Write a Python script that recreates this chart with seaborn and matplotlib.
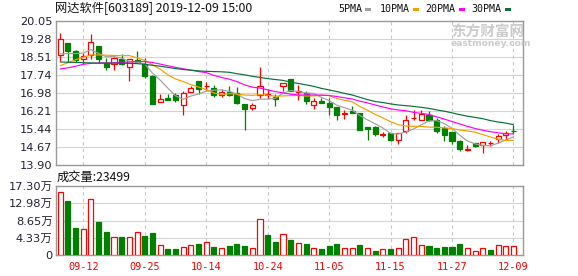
import numpy as np
import pandas as pd
import matplotlib
matplotlib.use("Agg")
import matplotlib.pyplot as plt
from matplotlib.patches import Rectangle
import seaborn as sns

# ---------------- data ----------------
tick_dates = ["09-12", "09-25", "10-14", "10-24", "11-05", "11-15", "11-27", "12-09"]
tick_index = [3, 11, 19, 27, 35, 43, 51, 59]

opens = [18.60, 19.11, 18.76, 18.43, 18.58, 18.97, 18.24, 18.21, 18.44, 18.07,
         18.38, 18.21, 17.71, 16.58, 16.76, 16.90, 16.48, 17.00, 17.47, 17.26,
         17.19, 16.89, 17.02, 16.97, 16.50, 16.33, 16.88, 16.90, 16.82, 17.29,
         17.57, 17.00, 16.96, 16.48, 16.63, 16.55, 16.39, 16.08, 16.19, 16.12,
         15.54, 15.52, 15.18, 15.25, 14.98, 15.34, 15.89, 15.81, 16.05, 15.81,
         15.48, 15.31, 14.91, 14.56, 14.82, 14.76, 14.82, 15.00, 15.16, 15.37]
closes = [19.27, 18.77, 18.40, 18.56, 19.14, 18.44, 18.07, 18.46, 18.21, 18.41,
          18.30, 17.71, 16.51, 16.72, 16.69, 16.66, 16.96, 17.19, 17.16, 17.28,
          16.90, 17.00, 16.90, 16.56, 16.31, 16.48, 17.29, 16.93, 16.73, 17.39,
          17.07, 17.04, 16.65, 16.62, 16.56, 16.39, 16.05, 16.11, 16.12, 15.41,
          15.44, 15.22, 15.21, 14.98, 15.27, 15.84, 15.91, 16.08, 15.81, 15.34,
          15.20, 14.91, 14.60, 14.58, 14.72, 14.87, 14.84, 15.15, 15.28, 15.35]
highs = [19.54, 19.11, 18.81, 18.67, 19.49, 18.97, 18.47, 18.50, 18.64, 18.41,
         18.77, 18.47, 17.76, 16.93, 16.93, 16.96, 17.05, 17.26, 17.47, 17.43,
         17.33, 17.14, 17.26, 17.22, 16.50, 16.55, 18.07, 17.16, 16.93, 17.39,
         17.57, 17.30, 17.05, 16.76, 16.76, 16.76, 16.39, 16.26, 16.40, 16.12,
         15.54, 15.55, 15.31, 15.25, 15.27, 16.05, 16.26, 16.24, 16.19, 15.91,
         15.55, 15.31, 14.98, 14.77, 14.84, 14.87, 14.92, 15.22, 15.34, 15.61]
lows = [18.33, 18.30, 18.31, 18.20, 18.44, 18.26, 17.97, 17.97, 18.18, 17.50,
        18.24, 17.62, 16.51, 16.58, 16.69, 16.59, 16.05, 17.00, 16.93, 17.12,
        16.80, 16.80, 16.83, 16.52, 15.41, 16.26, 16.76, 16.72, 16.41, 17.05,
        17.05, 16.69, 16.50, 16.31, 16.55, 16.05, 15.84, 15.88, 16.12, 15.41,
        14.98, 15.12, 15.08, 14.94, 14.81, 15.27, 15.81, 15.81, 15.76, 15.27,
        14.94, 14.81, 14.48, 14.51, 14.65, 14.43, 14.72, 14.86, 14.98, 15.22]

# volume in 万 (10k) and bar colour (R = up, G = down) as drawn
volumes = [15.87, 13.54, 6.77, 6.44, 13.96, 8.27, 5.77, 4.43, 4.51, 4.43,
           5.68, 4.76, 5.52, 2.42, 1.50, 1.50, 1.92, 2.42, 2.76, 3.26,
           2.01, 1.67, 2.26, 2.76, 2.26, 1.67, 8.94, 5.01, 3.34, 5.26,
           3.76, 3.01, 2.76, 1.76, 1.50, 2.26, 2.76, 1.67, 1.67, 2.51,
           1.67, 1.00, 1.42, 1.50, 1.67, 3.93, 4.43, 2.42, 2.26, 1.76,
           2.01, 2.01, 2.76, 1.67, 0.92, 1.67, 1.25, 2.42, 2.17, 2.35]
vol_dir = list("RGGRRGGRGRRGGRGGRRGRGRGGGRRGGRGRGRGGGRRGRGRGRRRRGGGGGRRRGRRR")

# moving-average values before enough history is visible
ma5_head = [18.64, 18.66, 18.66, 18.68]
ma10_head = [18.14, 18.27, 18.40, 18.50, 18.60, 18.60, 18.59, 18.58, 18.57]
ma20_head = [18.00, 18.05, 18.12, 18.20, 18.24, 18.26, 18.26, 18.27, 18.28, 18.30,
             18.32, 18.32, 18.28, 18.21, 18.14, 18.07, 18.01, 17.95, 17.89]
ma30_head = [18.30, 18.29, 18.28, 18.27, 18.26, 18.25, 18.25, 18.25, 18.25, 18.24,
             18.23, 18.20, 18.16, 18.12, 18.07, 18.02, 17.98, 17.95, 17.92, 17.90,
             17.89, 17.88, 17.86, 17.80, 17.75, 17.69, 17.64, 17.59, 17.55]

price_ticks = [13.90, 14.67, 15.44, 16.21, 16.98, 17.74, 18.51, 19.28, 20.05]
vol_ticks = [0, 4.325, 8.65, 12.975, 17.30]
vol_tick_labels = ["0", "4.33万", "8.65万", "12.98万", "17.30万"]

title_text = "网达软件[603189] 2019-12-09 15:00"
vol_title = "成交量:23499"
legend_labels = ["5PMA", "10PMA", "20PMA", "30PMA"]

# ---------------- styling ----------------
sns.set_theme(style="white")
plt.rcParams["font.family"] = ["DejaVu Sans", "Noto Sans CJK SC"]

RED = "#ff0000"
GREEN = "#008000"
MA_COLORS = ["#a0a0a0", "#f5a000", "#ff00ff", "#08703a"]
GRID = "#d4d4d4"
SPINE = "#999999"
TXT = "#222233"

W, H = 578, 276
fig = plt.figure(figsize=(W / 100, H / 100), dpi=100)
fig.patch.set_facecolor("white")


def fx(px):
    return px / W


def fy(py):
    return 1 - py / H


ax = fig.add_axes([fx(56), fy(165), fx(522.7 - 56), (165 - 21) / H])
axv = fig.add_axes([fx(56), fy(255), fx(522.7 - 56), (255 - 186) / H])

n = len(closes)
idx = np.arange(n)
df = pd.DataFrame({"i": idx, "open": opens, "close": closes, "high": highs, "low": lows,
                   "vol": volumes, "dir": vol_dir})


def ma(window, head):
    s = df["close"].rolling(window).mean()
    s.iloc[:len(head)] = head
    return s


df["ma5"] = ma(5, ma5_head)
df["ma10"] = ma(10, ma10_head)
df["ma20"] = ma(20, ma20_head)
df["ma30"] = ma(30, ma30_head)

xlim = (-0.55, 60.2)

for a in (ax, axv):
    a.set_facecolor("white")
    a.set_xlim(*xlim)
    for s in a.spines.values():
        s.set_color(SPINE)
        s.set_linewidth(1.0)
    for t in tick_index:
        a.axvline(t, color="#c8c8c8", lw=0.8, ls=(0, (3, 3)), zorder=0)
    a.tick_params(axis="both", length=0, colors=TXT)

# price panel
ax.set_ylim(price_ticks[0], price_ticks[-1])
ax.set_yticks(price_ticks)
ax.set_yticklabels([f"{v:.2f}" for v in price_ticks], fontsize=8.2, color=TXT)
ax.tick_params(axis="y", pad=2.5)
ax.set_xticks([])
for v in price_ticks[1:-1]:
    ax.axhline(v, color=GRID, lw=0.8, zorder=0)

up = df["close"] >= df["open"]
ccol = np.where(up, RED, GREEN)
ax.vlines(df["i"], df["low"], df["high"], colors=ccol, lw=0.9, zorder=2)
body_lo = np.minimum(df["open"], df["close"])
body_h = np.maximum(np.abs(df["close"] - df["open"]), 0.004)
ax.bar(df["i"], body_h, bottom=body_lo, width=0.66,
       color=np.where(up, "white", GREEN), edgecolor=ccol, linewidth=0.9, zorder=3)

for col, c in zip(["ma5", "ma10", "ma20", "ma30"], MA_COLORS):
    sns.lineplot(data=df, x="i", y=col, ax=ax, color=c, lw=0.85, estimator=None,
                 legend=False, zorder=4)
ax.set_xlabel("")
ax.set_ylabel("")

# volume panel
axv.set_ylim(0, vol_ticks[-1])
axv.set_yticks(vol_ticks)
axv.set_yticklabels(vol_tick_labels, fontsize=8.2, color=TXT)
axv.tick_params(axis="y", pad=2.5)
for v in vol_ticks[1:-1]:
    axv.axhline(v, color=GRID, lw=0.8, zorder=0)
vup = df["dir"] == "R"
vcol = np.where(vup, RED, GREEN)
axv.bar(df["i"], df["vol"], width=0.66, color=np.where(vup, "white", GREEN),
        edgecolor=vcol, linewidth=0.9, zorder=3)
axv.set_xticks(tick_index)
axv.set_xticklabels(tick_dates, color=RED, fontsize=7.4, family="DejaVu Sans Mono")
axv.tick_params(axis="x", pad=5)

# texts
fig.text(fx(55), fy(8.5), title_text, fontsize=8.8, color="#111111", va="center", ha="left",
         family=["Noto Sans CJK SC", "DejaVu Sans"])
fig.text(fx(57), fy(177.5), vol_title, fontsize=8.8, color="#111111", va="center", ha="left",
         family=["Noto Sans CJK SC", "DejaVu Sans"])

leg_text_x = [338.3, 380, 425.7, 471.7]
leg_mark_x = [365, 413.3, 459.3, 505]
for lab, tx, mx, c in zip(legend_labels, leg_text_x, leg_mark_x, MA_COLORS):
    fig.text(fx(tx), fy(9), lab, fontsize=7.2, color="#111111", va="center", ha="left",
             family="DejaVu Sans Mono")
    fig.add_artist(Rectangle((fx(mx), fy(10.5)), fx(5.5), 2.5 / H,
                             transform=fig.transFigure, color=c, lw=0))

# watermark
fig.text(fx(451), fy(32), "东方财富网", fontsize=10.5, color="#cccccc", fontweight="bold",
         va="center", ha="left", family=["Noto Sans CJK SC", "DejaVu Sans"])
fig.text(fx(451), fy(43.5), "eastmoney.com", fontsize=6.6, color="#cccccc", fontweight="bold",
         va="center", ha="left")

fig.savefig("out.png", dpi=100)
